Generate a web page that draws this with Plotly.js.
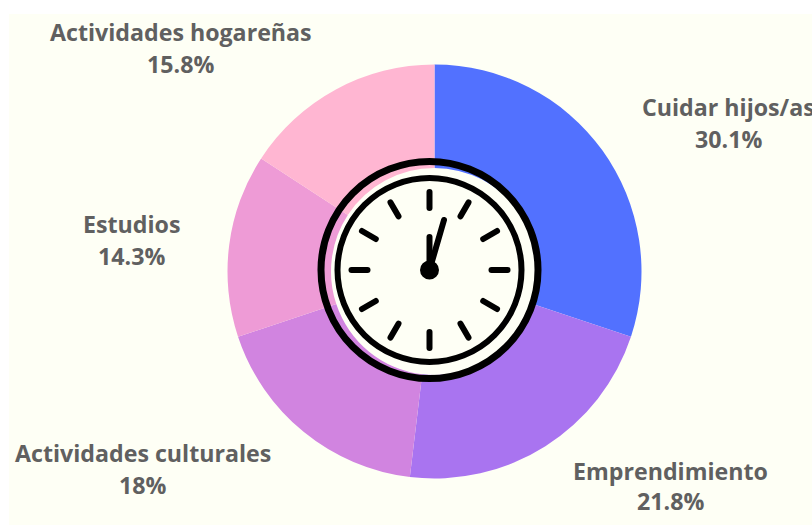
<!DOCTYPE html>
<html><head><meta charset="utf-8">
<script src="https://cdn.plot.ly/plotly-3.0.1.min.js"></script>
<style>html,body{margin:0;padding:0;background:#fff}.shapelayer path{stroke-linecap:round}</style>
</head><body><div id="chart" style="width:812px;height:525px"></div>
<script>
const categories=["Cuidar hijos/as","Emprendimiento","Actividades culturales","Estudios","Actividades hogareñas"];
const values=[30.1,21.8,18,14.3,15.8];
const colors=["#5271ff","#a974f0","#d184e0","#ee9bd6","#ffb6d2"];
const labelX=[728,670,143,131,180.5];
const labelY=[107,471,453,224,32];
const percentY=[139,501,485,256,64];
const W=812,H=525;
const bg="#fefff5";
const px=x=>x/W, py=y=>1-y/H;
const cx=429.5,cy=270;
function circle(x,y,r,fill,line,width,layer){return {type:"circle",xref:"paper",yref:"paper",x0:px(x-r),x1:px(x+r),y0:py(y+r),y1:py(y-r),fillcolor:fill,line:{color:line,width:width},layer:layer||"above"};}
function seg(x0,y0,x1,y1,w){return {type:"line",xref:"paper",yref:"paper",x0:px(x0),x1:px(x1),y0:py(y0),y1:py(y1),line:{color:"#000",width:w},layer:"above"};}
const shapes=[
 {type:"rect",xref:"paper",yref:"paper",x0:px(9),x1:1,y0:0,y1:py(14),fillcolor:bg,line:{width:0},layer:"below"},
 circle(cx,cy,108.5,"rgba(0,0,0,0)","#000",7),
 circle(cx,cy,92,bg,"#000",6),
];
for(let h=0;h<12;h++){const a=h*Math.PI/6,s=Math.sin(a),c=Math.cos(a);
 shapes.push(seg(cx+62*s,cy-62*c,cx+78*s,cy-78*c,6));}
shapes.push(seg(cx,cy,cx,237,6),seg(cx,cy,444,220,6),circle(cx,cy,8,"#000","#000",3));
const font={family:"Open Sans",size:23.2,color:"#606060",weight:700};
function note(text,x,y){return {text:text,xref:"paper",yref:"paper",x:px(x),y:py(y),xanchor:"center",yanchor:"middle",showarrow:false,font:font};}
const annotations=[];
categories.forEach((c,i)=>{annotations.push(note(c,labelX[i],labelY[i]),note(values[i]+"%",labelX[i],percentY[i]));});
Plotly.newPlot("chart",[{
 type:"pie",labels:categories,values:values,sort:false,direction:"clockwise",rotation:0,hole:0.5,
 marker:{colors:colors,line:{width:0}},textinfo:"none",showlegend:false,hoverinfo:"none",
 domain:{x:[(434.5-207)/W,(434.5+207)/W],y:[1-(271.5+207)/H,1-(271.5-207)/H]}
}],{width:W,height:H,margin:{l:0,r:0,t:0,b:0},paper_bgcolor:"#fff",showlegend:false,shapes:shapes,annotations:annotations},{displayModeBar:false,staticPlot:true});
</script></body></html>
